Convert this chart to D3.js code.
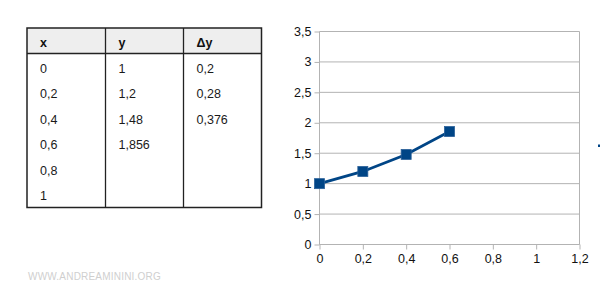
<!DOCTYPE html>
<html>
<head>
<meta charset="utf-8">
<script src="https://cdn.jsdelivr.net/npm/d3@7"></script>
<style>
body { margin: 0; background: #fff; }
svg text { font-family: "Liberation Sans", Arial, sans-serif; }
</style>
</head>
<body>
<div class="container"></div>
<script>
// table data
const tableHeaders = ["x", "y", "\u0394y"]
const colX = ["0", "0,2", "0,4", "0,6", "0,8", "1"]
const colY = ["1", "1,2", "1,48", "1,856", "", ""]
const colDY = ["0,2", "0,28", "0,376", "", "", ""]

// chart data
const xs = [0, 0.2, 0.4, 0.6]
const ys = [1, 1.2, 1.48, 1.856]
const xTicks = [0, 0.2, 0.4, 0.6, 0.8, 1, 1.2]
const yTicks = [0, 0.5, 1, 1.5, 2, 2.5, 3, 3.5]

const w = 600
const h = 295
const fmt = d => String(d).replace(".", ",")

const svg = d3.select(".container").append("svg")
    .attr("width", w)
    .attr("height", h)

// ---- table ----
const tx = [27, 105.5, 183.5, 261.5]
const ty0 = 28, headH = 25.5, rowH = 25.5
const tbl = svg.append("g")
const nRows = colX.length
const tBottom = ty0 + headH + rowH * nRows + 1

tbl.append("rect")
    .attr("x", tx[0]).attr("y", ty0)
    .attr("width", tx[3] - tx[0]).attr("height", headH)
    .attr("fill", "#eeeeee")

tbl.append("rect")
    .attr("x", tx[0]).attr("y", ty0)
    .attr("width", tx[3] - tx[0]).attr("height", tBottom - ty0)
    .attr("fill", "none").attr("stroke", "#222").attr("stroke-width", 1.5)

tbl.append("line")
    .attr("x1", tx[0]).attr("x2", tx[3])
    .attr("y1", ty0 + headH).attr("y2", ty0 + headH)
    .attr("stroke", "#222").attr("stroke-width", 1.3)

tbl.selectAll("line.col")
    .data([tx[1], tx[2]])
    .enter().append("line")
    .attr("class", "col")
    .attr("x1", d => d).attr("x2", d => d)
    .attr("y1", ty0).attr("y2", tBottom)
    .attr("stroke", "#222").attr("stroke-width", 1.3)

tbl.selectAll("text.head")
    .data(tableHeaders)
    .enter().append("text")
    .attr("class", "head")
    .attr("x", (d, i) => tx[i] + 13)
    .attr("y", ty0 + 19)
    .attr("font-size", 12.5)
    .attr("font-weight", "bold")
    .attr("fill", "#111")
    .text(d => d)

const cols = [colX, colY, colDY]
cols.forEach((col, c) => {
    tbl.selectAll("text.c" + c)
        .data(col)
        .enter().append("text")
        .attr("class", "c" + c)
        .attr("x", tx[c] + 13)
        .attr("y", (d, i) => ty0 + headH + 19 + i * rowH)
        .attr("font-size", 12.5)
        .attr("fill", "#1a1a1a")
        .text(d => d)
})

// ---- chart ----
const xScale = d3.scaleLinear().domain([0, 1.2]).range([319.5, 579.5])
const yScale = d3.scaleLinear().domain([0, 3.5]).range([244.5, 31.5])

const grid = svg.append("g")
grid.selectAll("line")
    .data(yTicks)
    .enter().append("line")
    .attr("x1", xScale(0)).attr("x2", xScale(1.2))
    .attr("y1", d => yScale(d)).attr("y2", d => yScale(d))
    .attr("stroke", "#b3b3b3").attr("stroke-width", 1)

grid.append("line")
    .attr("x1", xScale(1.2)).attr("x2", xScale(1.2))
    .attr("y1", yScale(0)).attr("y2", yScale(3.5))
    .attr("stroke", "#b3b3b3")

const xAxis = d3.axisBottom(xScale).tickValues(xTicks).tickFormat(fmt).tickSize(5).tickPadding(5)
const gx = svg.append("g")
    .attr("transform", "translate(0," + yScale(0) + ")")
    .call(xAxis)
gx.select(".domain").attr("stroke", "#b3b3b3").attr("d", "M" + xScale(0) + ",0H" + xScale(1.2))
gx.selectAll(".tick line").attr("stroke", "#b3b3b3")
gx.selectAll("text").attr("font-size", 12.5).attr("fill", "#111")
    .attr("font-family", "Liberation Sans, Arial, sans-serif")

const yAxis = d3.axisLeft(yScale).tickValues(yTicks).tickFormat(fmt).tickSize(5).tickPadding(3)
const gy = svg.append("g")
    .attr("transform", "translate(" + xScale(0) + ",0)")
    .call(yAxis)
gy.select(".domain").attr("stroke", "#b3b3b3").attr("d", "M0," + yScale(0) + "V" + yScale(3.5))
gy.selectAll(".tick line").attr("stroke", "#b3b3b3")
gy.selectAll("text").attr("font-size", 12.5).attr("fill", "#111")
    .attr("font-family", "Liberation Sans, Arial, sans-serif")

const pts = xs.map((x, i) => [x, ys[i]])
const line = d3.line().x(d => xScale(d[0])).y(d => yScale(d[1]))

svg.append("path")
    .datum(pts)
    .attr("d", line)
    .attr("fill", "none")
    .attr("stroke", "#004586")
    .attr("stroke-width", 2.8)

svg.selectAll("rect.mark")
    .data(pts)
    .enter().append("rect")
    .attr("class", "mark")
    .attr("x", d => xScale(d[0]) - 5)
    .attr("y", d => yScale(d[1]) - 5)
    .attr("width", 10).attr("height", 10)
    .attr("fill", "#004586")
    .attr("stroke", "#2a6099").attr("stroke-width", 0.8)

// clipped legend marker at the edge
svg.append("rect")
    .attr("x", 598).attr("y", 144.5)
    .attr("width", 3).attr("height", 2.5)
    .attr("fill", "#004586")

// watermark
svg.append("text")
    .attr("x", 28).attr("y", 280)
    .attr("font-size", 10)
    .attr("letter-spacing", 0.2)
    .attr("fill", "#cfcfcf")
    .text("WWW.ANDREAMININI.ORG")
</script>
</body>
</html>
